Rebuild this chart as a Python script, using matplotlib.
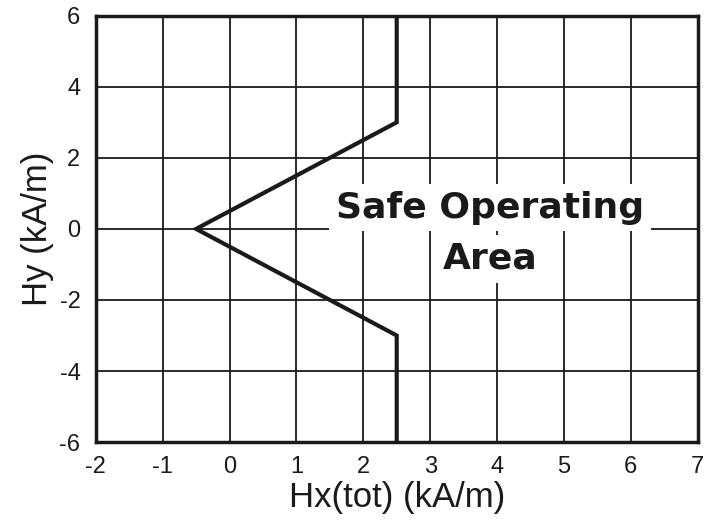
import matplotlib
matplotlib.use('Agg')
import matplotlib.pyplot as plt
#
# safe operating area boundary
hx = [2.5, 2.5, -0.5, 2.5, 2.5]
hy = [6, 3, 0, -3, -6]
xticks = [-2, -1, 0, 1, 2, 3, 4, 5, 6, 7]
yticks = [-6, -4, -2, 0, 2, 4, 6]
#
plt.rcParams['font.family'] = ['Liberation Sans Narrow', 'Liberation Sans', 'DejaVu Sans']
plt.rcParams['axes.unicode_minus'] = False
fig = plt.figure(figsize=(7.04, 5.25), dpi=100)
ax = fig.add_axes([0.136, 0.158, 0.855, 0.812])
ax.plot(hx, hy, color='#1a1a1a', lw=3, solid_joinstyle='miter', zorder=3)
ax.set_xlim(-2, 7)
ax.set_ylim(-6, 6)
ax.set_xticks(xticks)
ax.set_yticks(yticks)
ax.grid(True, color='#1a1a1a', lw=1.3)
ax.tick_params(length=0, labelsize=17, colors='#1a1a1a')
ax.tick_params(axis='x', pad=10)
ax.tick_params(axis='y', pad=11)
for s in ax.spines.values():
    s.set_linewidth(2.5)
    s.set_color('#1a1a1a')
ax.set_xlabel('Hx(tot) (kA/m)', fontsize=25, color='#1a1a1a', labelpad=2,
              family=['Liberation Sans', 'DejaVu Sans'])
ax.set_ylabel('Hy (kA/m)', fontsize=25, color='#1a1a1a', labelpad=4,
              family=['Liberation Sans', 'DejaVu Sans'])
#
box = dict(facecolor='white', edgecolor='none', pad=5)
ax.text(3.9, 0.6, 'Safe Operating', fontsize=26, fontweight='bold', ha='center', va='center',
        color='#1a1a1a', bbox=box, zorder=4, family='DejaVu Sans')
ax.text(3.9, -0.84, 'Area', fontsize=26, fontweight='bold', ha='center', va='center',
        color='#1a1a1a', bbox=box, zorder=4, family='DejaVu Sans')
fig.savefig('out.png', dpi=100)
